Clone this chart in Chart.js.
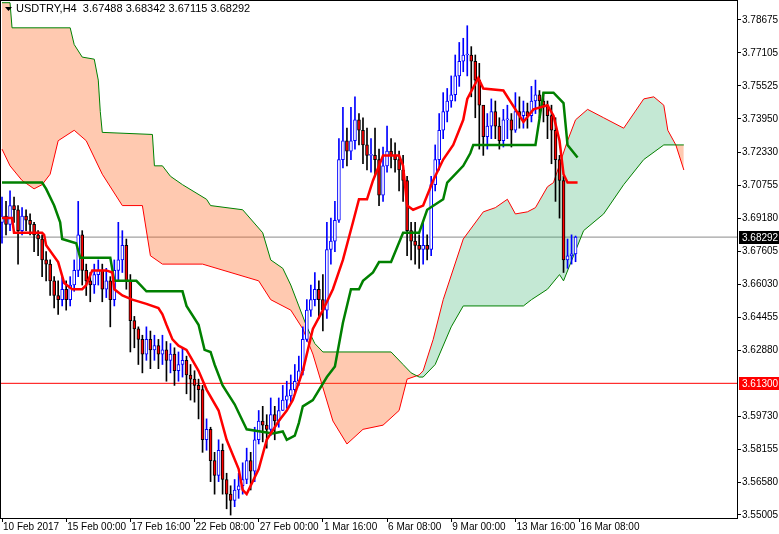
<!DOCTYPE html>
<html>
<head>
<meta charset="utf-8">
<script src="https://cdn.jsdelivr.net/npm/chart.js@4"></script>
<style>
  html, body { margin: 0; padding: 0; background: #fff; }
  #wrap { width: 779px; height: 534px; }
</style>
</head>
<body>
<div id="wrap"><canvas id="graph"></canvas></div>
<script>
// USDTRY H4, one entry per bar, bar 0 = 10 Feb 2017
const closes = [
  3.693,3.689,3.698,3.696,3.686,3.693,3.691,3.689,3.684,3.682,
  3.672,3.670,3.662,3.655,3.653,3.658,3.653,3.660,3.667,3.684,
  3.667,3.662,3.660,3.665,3.667,3.658,3.662,3.653,3.667,3.672,
  3.679,3.662,3.643,3.639,3.634,3.627,3.634,3.629,3.631,3.627,
  3.629,3.624,3.627,3.619,3.622,3.624,3.617,3.615,3.612,3.610,
  3.586,3.591,3.576,3.569,3.581,3.567,3.560,3.557,3.562,3.564,
  3.567,3.576,3.571,3.586,3.595,3.593,3.591,3.598,3.595,3.600,
  3.605,3.607,3.610,3.614,3.619,3.634,3.648,3.653,3.658,3.653,
  3.648,3.677,3.681,3.691,3.720,3.729,3.724,3.729,3.739,3.734,
  3.727,3.722,3.722,3.720,3.703,3.717,3.724,3.722,3.720,3.715,
  3.710,3.686,3.681,3.679,3.677,3.679,3.677,3.708,3.720,3.734,
  3.743,3.748,3.751,3.760,3.767,3.770,3.770,3.767,3.758,3.746,
  3.731,3.736,3.743,3.736,3.729,3.739,3.739,3.734,3.743,3.741,
  3.743,3.741,3.748,3.751,3.748,3.746,3.741,3.734,3.720,3.710,
  3.672,3.674,3.67488,3.68292
];
const highs = [
  3.702,3.700,3.705,3.702,3.698,3.697,3.696,3.694,3.690,3.686,
  3.684,3.676,3.672,3.664,3.662,3.664,3.662,3.664,3.672,3.700,
  3.686,3.670,3.666,3.670,3.672,3.670,3.668,3.664,3.672,3.690,
  3.686,3.682,3.665,3.645,3.640,3.636,3.640,3.638,3.636,3.634,
  3.636,3.633,3.632,3.630,3.628,3.630,3.626,3.622,3.619,3.615,
  3.612,3.596,3.592,3.580,3.586,3.584,3.570,3.564,3.567,3.570,
  3.575,3.582,3.580,3.592,3.600,3.602,3.598,3.606,3.602,3.606,
  3.612,3.614,3.617,3.622,3.626,3.640,3.653,3.660,3.666,3.662,
  3.665,3.690,3.692,3.700,3.730,3.745,3.735,3.745,3.750,3.742,
  3.740,3.735,3.730,3.735,3.725,3.726,3.736,3.730,3.728,3.724,
  3.722,3.712,3.690,3.690,3.684,3.690,3.684,3.712,3.727,3.742,
  3.752,3.754,3.760,3.770,3.776,3.778,3.784,3.774,3.770,3.766,
  3.745,3.742,3.749,3.748,3.740,3.744,3.746,3.742,3.752,3.750,
  3.748,3.747,3.755,3.758,3.753,3.752,3.748,3.746,3.740,3.722,
  3.712,3.682,3.684,3.68342
];
const lows = [
  3.680,3.684,3.686,3.690,3.670,3.684,3.686,3.684,3.676,3.674,
  3.664,3.662,3.655,3.649,3.646,3.650,3.648,3.650,3.657,3.664,
  3.660,3.655,3.652,3.656,3.660,3.652,3.654,3.640,3.650,3.662,
  3.666,3.658,3.628,3.630,3.622,3.618,3.624,3.620,3.624,3.620,
  3.622,3.614,3.618,3.612,3.614,3.616,3.608,3.605,3.604,3.596,
  3.580,3.581,3.566,3.560,3.566,3.560,3.553,3.550,3.554,3.558,
  3.560,3.565,3.562,3.566,3.584,3.585,3.582,3.588,3.586,3.592,
  3.600,3.601,3.604,3.608,3.612,3.617,3.633,3.645,3.650,3.644,
  3.638,3.644,3.670,3.676,3.690,3.716,3.717,3.720,3.725,3.727,
  3.718,3.715,3.714,3.712,3.698,3.700,3.714,3.716,3.714,3.705,
  3.700,3.674,3.672,3.670,3.668,3.670,3.672,3.674,3.705,3.715,
  3.730,3.738,3.745,3.748,3.755,3.762,3.760,3.750,3.740,3.725,
  3.722,3.725,3.730,3.730,3.725,3.726,3.730,3.726,3.733,3.735,
  3.735,3.735,3.738,3.742,3.740,3.738,3.730,3.718,3.700,3.692,
  3.666,3.668,3.670,3.67115
];
const firstOpen = 3.690;

// ichimoku lines: [bar, price]
const tenkan = [[0,3.692],[2.5,3.692],[3,3.685],[10,3.685],[10.5,3.684],[11,3.679],[14,3.671],[15.5,3.661],[17.5,3.658],[20,3.658],
  [21,3.660],[22.5,3.667],[26,3.667],[27.5,3.666],[28,3.658],[30,3.655],[32.5,3.653],[36,3.651],[39,3.649],[40,3.646],[41,3.641],
  [42.5,3.634],[44,3.631],[46,3.629],[49,3.619],[51,3.610],[54,3.600],[56,3.586],[59,3.572],[60,3.562],[61,3.560],[64,3.572],
  [66,3.586],[69,3.595],[71,3.600],[72.5,3.605],[75,3.619],[77.5,3.639],[80,3.648],[82.5,3.658],[85,3.672],[87.5,3.690],[89,3.701],
  [91,3.701],[92.5,3.710],[94,3.717],[95,3.722],[99,3.722],[100,3.717],[101,3.698],[102.5,3.696],[105,3.698],[107.5,3.710],
  [110,3.720],[112.5,3.727],[115,3.739],[116,3.749],[118.75,3.759],[120,3.754],[125,3.753],[130,3.738],[132.5,3.744],[136,3.746],
  [137.5,3.741],[139,3.729],[140,3.713],[141,3.709],[143.5,3.709]];
const kijun = [[0,3.709],[10,3.709],[11,3.706],[13,3.698],[14.5,3.690],[15,3.682],[18.5,3.680],[19.5,3.673],[27,3.673],[28,3.662],
  [33.5,3.662],[34,3.661],[36,3.657],[45,3.657],[46,3.650],[49,3.641],[50.5,3.629],[52,3.628],[53,3.622],[55,3.612],[58,3.603],
  [60,3.595],[61,3.591],[67.5,3.589],[70,3.590],[71,3.586],[73,3.588],[74,3.594],[75,3.602],[77.5,3.605],[81,3.616],[83,3.621],
  [85,3.642],[87,3.658],[89,3.658],[90,3.662],[92.5,3.666],[94,3.671],[97,3.671],[100,3.685],[104,3.685],[106,3.696],[110,3.701],
  [111,3.709],[115,3.717],[116.75,3.723],[117.5,3.727],[133,3.727],[135,3.752],[137.5,3.752],[140,3.747],[141,3.727],[143.5,3.721]];
const spanA = [[0,3.725],[2,3.717],[5,3.710],[8,3.706],[10,3.708],[12,3.713],[14,3.729],[18,3.734],[21,3.729],[25,3.713],
  [30,3.698],[35,3.698],[37,3.674],[40,3.670],[50,3.670],[64,3.662],[67,3.653],[72,3.648],[75,3.639],[77.5,3.627],[82.5,3.595],
  [86,3.584],[90,3.591],[95,3.593],[99,3.600],[101,3.615],[104,3.617],[105,3.619],[107.5,3.634],[110,3.653],[115,3.682],
  [120,3.695],[123,3.697],[126,3.701],[128,3.694],[131,3.695],[133,3.697],[136,3.707],[137.5,3.709],[141,3.729],[143,3.739],
  [146,3.744],[150,3.740],[155,3.735],[160,3.749],[162.5,3.750],[165,3.746],[166,3.734],[168,3.727],[170,3.715]];
const spanB = [[0,3.795],[2,3.795],[2.5,3.783],[17,3.783],[18,3.775],[20,3.769],[23,3.768],[24,3.758],[24.5,3.743],[25,3.733],
  [37.5,3.732],[38,3.717],[40,3.717],[42,3.712],[45,3.708],[51,3.701],[52,3.698],[60,3.696],[65,3.685],[67,3.672],[70,3.668],
  [72,3.660],[74,3.650],[76,3.640],[78,3.632],[80,3.628],[97,3.628],[100,3.622],[102,3.618],[104,3.616],[105,3.616],[108,3.622],
  [112,3.640],[115,3.650],[130,3.650],[132,3.653],[136,3.658],[139,3.665],[140,3.662],[145,3.686],[150,3.694],[155,3.708],
  [160,3.720],[165,3.727],[170,3.727]];

const timeTicks = [0,16,32,48,64,80,96,112,128,144];
const timeLabels = ['10 Feb 2017','15 Feb 00:00','17 Feb 16:00','22 Feb 08:00','27 Feb 00:00','1 Mar 16:00','6 Mar 08:00','9 Mar 00:00','13 Mar 16:00','16 Mar 08:00'];
const priceTicks = [3.78675,3.77105,3.75525,3.73950,3.72330,3.70755,3.69180,3.67605,3.66030,3.64455,3.62880,3.59730,3.58155,3.56580,3.55005];
const bidLevel = 3.68292;
const alertLevel = 3.61300;
const header = 'USDTRY,H4  3.67488 3.68342 3.67115 3.68292';

const opens = closes.map((c, i) => i == 0 ? firstOpen : closes[i - 1]);
const isUp = closes.map((c, i) => c >= opens[i]);
const toXY = arr => arr.map(p => ({x: p[0], y: p[1]}));

const wicks = closes.map((c, i) => ({x: i, y: [lows[i], highs[i]]}));
const bodies = closes.map((c, i) => ({x: i, y: [opens[i], c]}));

const extras = {
    id: 'extras',
    afterDraw(chart) {
        const ctx = chart.ctx;
        const a = chart.chartArea;
        const x = chart.scales.x;
        const y = chart.scales.y;
        ctx.save();
        ctx.strokeStyle = '#000';
        ctx.lineWidth = 1;
        ctx.strokeRect(a.left + 0.5, a.top + 0.5, a.right - a.left - 1, a.bottom - a.top);
        ctx.font = '10px "Liberation Sans"';
        ctx.textBaseline = 'middle';
        ctx.fillStyle = '#000';
        timeTicks.forEach((t, i) => {
            ctx.fillText(timeLabels[i], x.getPixelForValue(t) + 1, a.bottom + 9);
        });
        [[bidLevel, '#000'], [alertLevel, '#ff0000']].forEach(([v, col]) => {
            const py = Math.round(y.getPixelForValue(v));
            ctx.fillStyle = col;
            ctx.fillRect(a.right + 1, py - 6, chart.width - a.right, 13);
            ctx.fillStyle = '#fff';
            ctx.fillText(v.toFixed(5), a.right + 4, py + 1);
        });
        ctx.fillStyle = '#000';
        ctx.beginPath();
        ctx.moveTo(5, 7); ctx.lineTo(12, 7); ctx.lineTo(8.5, 11); ctx.closePath();
        ctx.fill();
        ctx.font = '11px "Liberation Sans"';
        ctx.fillText(header, 16, 9);
        ctx.restore();
    }
};

new Chart(document.getElementById('graph'), {
    type: 'bar',
    data: {
        datasets: [
            {type: 'line', data: toXY(spanB), borderColor: '#008000', borderWidth: 1, pointRadius: 0, fill: false, order: 6},
            {type: 'line', data: toXY(spanA), borderColor: '#ff0000', borderWidth: 1, pointRadius: 0, order: 6,
             backgroundColor: 'rgba(255,100,30,0.35)',
             fill: {target: 0, above: 'rgba(60,179,113,0.3)', below: 'rgba(255,100,30,0.35)'}},
            {type: 'line', data: [{x: -1, y: bidLevel}, {x: 200, y: bidLevel}], borderColor: '#8a8a8a', borderWidth: 1, pointRadius: 0, order: 7},
            {type: 'line', data: [{x: -1, y: alertLevel}, {x: 200, y: alertLevel}], borderColor: '#ff0000', borderWidth: 1, pointRadius: 0, order: 7},
            {data: wicks, grouped: false, barThickness: 1, backgroundColor: isUp.map(u => u ? '#0000ff' : '#000'), order: 5},
            {data: bodies, grouped: false, barThickness: 3, minBarLength: 1, borderSkipped: false, borderWidth: 1,
             backgroundColor: isUp.map(u => u ? '#fff' : '#ff0000'), borderColor: isUp.map(u => u ? '#0000ff' : '#000'), order: 4},
            {type: 'line', data: toXY(tenkan), borderColor: '#ff0000', borderWidth: 2.5, pointRadius: 0, fill: false, order: 1},
            {type: 'line', data: toXY(kijun), borderColor: '#008000', borderWidth: 2.5, pointRadius: 0, fill: false, order: 2}
        ]
    },
    options: {
        responsive: true,
        maintainAspectRatio: false,
        animation: false,
        layout: {padding: 0, autoPadding: false},
        plugins: {legend: {display: false}, tooltip: {enabled: false}},
        scales: {
            x: {
                type: 'linear', min: -0.5, max: 183.5, offset: false,
                grid: {drawOnChartArea: false, drawTicks: true, tickLength: 4, color: '#000', offset: false},
                border: {display: false},
                afterBuildTicks: s => { s.ticks = timeTicks.map(v => ({value: v})); },
                afterFit: s => { s.height = 16; },
                ticks: {display: false}
            },
            y: {
                position: 'right', min: 3.5486, max: 3.7963,
                grid: {drawOnChartArea: false, drawTicks: true, tickLength: 3, color: '#000'},
                border: {display: false},
                afterBuildTicks: s => { s.ticks = priceTicks.map(v => ({value: v})); },
                afterFit: s => { s.width = 41; s.paddingTop = 0; s.paddingBottom = 0; },
                ticks: {
                    autoSkip: false, padding: 1, color: '#000',
                    font: {family: 'Liberation Sans', size: 10},
                    callback: v => v.toFixed(5)
                }
            }
        }
    },
    plugins: [extras]
});
</script>
</body>
</html>
